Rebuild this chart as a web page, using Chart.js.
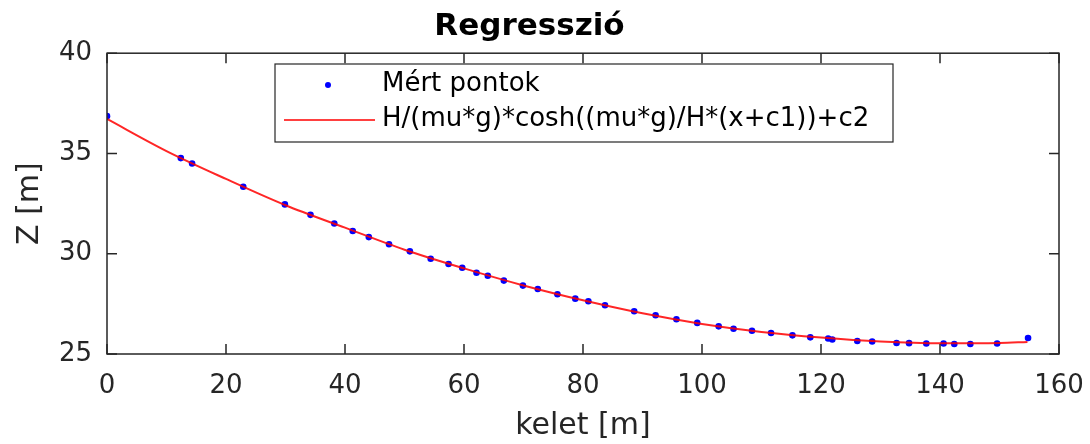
<!DOCTYPE html>
<html>
<head>
<meta charset="utf-8">
<script src="https://cdn.jsdelivr.net/npm/chart.js@4.4.1/dist/chart.umd.min.js"></script>
<style>
  html, body { margin: 0; padding: 0; background: #fff; }
  #wrap { width: 1090px; height: 444px; }
</style>
</head>
<body>
<div id="wrap"><canvas id="regChart" width="1090" height="444"></canvas></div>
<script>
// measured points (kelet [m], Z [m])
const pointX = [0, 12.4, 14.3, 22.9, 29.9, 34.2, 38.2, 41.3, 44.0, 47.4, 50.9, 54.4, 57.4, 59.7,
  62.1, 64.0, 66.7, 69.9, 72.4, 75.7, 78.7, 80.9, 83.7, 88.6, 92.2, 95.7, 99.2, 102.8, 105.3,
  108.4, 111.6, 115.2, 118.2, 121.2, 121.9, 126.1, 128.6, 132.7, 134.8, 137.7, 140.6, 142.4,
  145.1, 149.6, 154.8];
const pointZ = [36.86, 34.77, 34.5, 33.34, 32.46, 31.94, 31.51, 31.13, 30.83, 30.47, 30.12, 29.75,
  29.49, 29.3, 29.05, 28.9, 28.66, 28.41, 28.24, 27.98, 27.76, 27.63, 27.43, 27.13, 26.93, 26.73,
  26.55, 26.38, 26.26, 26.16, 26.05, 25.93, 25.83, 25.77, 25.72, 25.65, 25.62, 25.55, 25.54,
  25.52, 25.52, 25.5, 25.5, 25.52, 25.8];

// fitted curve
const fitX = [0, 10, 20, 30, 40, 50, 60, 70, 80, 90, 100, 110, 120, 130, 140, 150, 154.7];
const fitZ = [36.72, 35.12, 33.73, 32.42, 31.3, 30.2, 29.27, 28.42, 27.68, 27.03, 26.5, 26.1,
  25.82, 25.62, 25.53, 25.55, 25.6];

const xTicks = [0, 20, 40, 60, 80, 100, 120, 140, 160];
const yTicks = [25, 30, 35, 40];

const axisColor = '#262626';
const fontFamily = '"DejaVu Sans", sans-serif';

// box + inward ticks like the original plot
const boxPlugin = {
  id: 'box',
  afterDraw(chart) {
    const ctx = chart.ctx;
    const a = chart.chartArea;
    const xs = chart.scales.x, ys = chart.scales.y;
    ctx.save();
    ctx.strokeStyle = axisColor;
    ctx.lineWidth = 1.5;
    ctx.strokeRect(a.left, a.top, a.right - a.left, a.bottom - a.top);
    ctx.beginPath();
    xTicks.forEach(v => {
      const px = xs.getPixelForValue(v);
      ctx.moveTo(px, a.bottom); ctx.lineTo(px, a.bottom - 10);
      ctx.moveTo(px, a.top); ctx.lineTo(px, a.top + 10);
    });
    yTicks.forEach(v => {
      const py = ys.getPixelForValue(v);
      ctx.moveTo(a.left, py); ctx.lineTo(a.left + 10, py);
      ctx.moveTo(a.right, py); ctx.lineTo(a.right - 10, py);
    });
    ctx.stroke();
    ctx.restore();
  }
};

// legend box in the upper middle
const legendPlugin = {
  id: 'boxLegend',
  afterDraw(chart) {
    const ctx = chart.ctx;
    const ds = chart.data.datasets;
    ctx.save();
    ctx.fillStyle = '#fff';
    ctx.fillRect(275, 64, 618, 78);
    ctx.strokeStyle = axisColor;
    ctx.lineWidth = 1.2;
    ctx.strokeRect(275, 64, 618, 78);
    // dot
    ctx.fillStyle = ds[0].backgroundColor;
    ctx.beginPath();
    ctx.arc(328, 85, 3, 0, Math.PI * 2);
    ctx.fill();
    // line
    ctx.strokeStyle = '#ff0000';
    ctx.lineWidth = 1.5;
    ctx.beginPath();
    ctx.moveTo(284, 120); ctx.lineTo(375, 120);
    ctx.stroke();
    ctx.fillStyle = '#000';
    ctx.font = '26px ' + fontFamily;
    ctx.textBaseline = 'middle';
    ctx.fillText(ds[0].label, 382, 84);
    ctx.fillText(ds[1].label, 382, 119);
    ctx.restore();
  }
};

new Chart(document.getElementById('regChart'), {
  type: 'scatter',
  data: {
    datasets: [{
      label: 'Mért pontok',
      data: pointX.map((x, i) => ({ x: x, y: pointZ[i] })),
      backgroundColor: '#0000ff',
      borderColor: '#0000ff',
      pointRadius: 3.3,
      pointBorderWidth: 0,
      order: 1
    }, {
      label: 'H/(mu*g)*cosh((mu*g)/H*(x+c1))+c2',
      data: fitX.map((x, i) => ({ x: x, y: fitZ[i] })),
      showLine: true,
      borderColor: 'rgba(255,0,0,0.85)',
      backgroundColor: '#ff0000',
      borderWidth: 2,
      pointRadius: 0,
      cubicInterpolationMode: 'monotone',
      order: 0
    }]
  },
  options: {
    responsive: false,
    animation: false,
    layout: { padding: { top: 0, right: 31, left: 0, bottom: 0 } },
    plugins: {
      legend: { display: false },
      tooltip: { enabled: false },
      title: {
        display: true,
        text: 'Regresszió',
        color: '#000',
        font: { family: fontFamily, size: 31, weight: 'bold' },
        padding: { top: 8, bottom: 8 }
      }
    },
    scales: {
      x: {
        type: 'linear',
        min: 0, max: 160,
        afterBuildTicks: s => { s.ticks = xTicks.map(v => ({ value: v })); },
        afterFit: s => { s.height = 90; s.paddingLeft = 0; s.paddingRight = 0; },
        grid: { display: false, drawTicks: false },
        border: { display: false },
        ticks: { color: axisColor, padding: 17, font: { family: fontFamily, size: 26 } },
        title: { display: true, text: 'kelet [m]', color: axisColor, padding: { top: 0, bottom: 0 },
                 font: { family: fontFamily, size: 30 } }
      },
      y: {
        type: 'linear',
        min: 25, max: 40,
        afterBuildTicks: s => { s.ticks = yTicks.map(v => ({ value: v })); },
        afterFit: s => { s.width = 107; s.paddingTop = 0; s.paddingBottom = 0; },
        grid: { display: false, drawTicks: false },
        border: { display: false },
        ticks: { color: axisColor, padding: 15, font: { family: fontFamily, size: 26 } },
        title: { display: true, text: 'Z [m]', color: axisColor, padding: { top: 12, bottom: 0 },
                 font: { family: fontFamily, size: 30 } }
      }
    }
  },
  plugins: [boxPlugin, legendPlugin]
});
</script>
</body>
</html>
